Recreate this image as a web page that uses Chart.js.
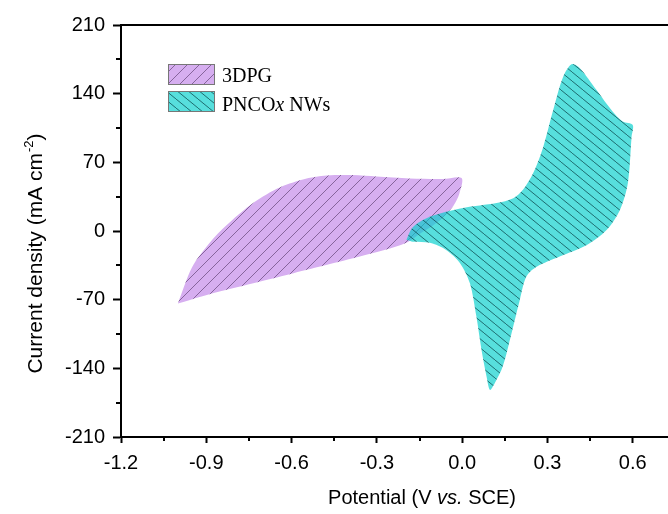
<!DOCTYPE html>
<html>
<head>
<meta charset="utf-8">
<script src="https://cdn.jsdelivr.net/npm/chart.js@4.4.0/dist/chart.umd.min.js"></script>
<style>
  html, body { margin: 0; padding: 0; background: #fff; overflow: hidden; }
  #wrap { width: 760px; height: 514px; }
</style>
</head>
<body>
<div id="wrap"><canvas id="cv" width="760" height="514"></canvas></div>
<script>
// ===== DATA =====
const seriesNames = ['3DPG', 'PNCOx NWs'];

// 3DPG loop (potential V, current mA cm-2), traced around the closed curve
const pgX = [-1.0, -0.95, -0.888, -0.828, -0.747, -0.652, -0.56, -0.476, -0.385, -0.301, -0.184, -0.068, -0.002,
             -0.01, -0.03, -0.06, -0.1, -0.15, -0.196, -0.28, -0.36, -0.475, -0.593, -0.71, -0.828, -0.92, -1.0];
const pgY = [-74, -37, -12, 6, 26, 43, 52.5, 56.5, 57, 55.5, 53.5, 53, 54,
             38, 26, 16, 6, -3, -12, -20, -26, -34.5, -43, -51.5, -60, -67, -74];

// PNCOx NWs loop
const ncX = [-0.196, -0.173, -0.114, 0.003, 0.121, 0.18, 0.214, 0.25, 0.285, 0.32, 0.355, 0.385, 0.414, 0.472, 0.53, 0.565, 0.6,
             0.596, 0.583, 0.555, 0.508, 0.437, 0.343, 0.262, 0.226, 0.203, 0.174, 0.143, 0.115, 0.098,
             0.086, 0.068, 0.05, 0.027, -0.008, -0.055, -0.114, -0.173, -0.196];
const ncY = [-9, 4, 14.5, 23.5, 28.5, 33.5, 42, 59, 85.5, 123, 157, 170, 166, 144, 121.5, 111.5, 108,
             96, 49, 21.5, 1, -14.5, -26, -36.5, -46.5, -70, -104, -138, -155, -162,
             -148.5, -121, -87, -53, -32.5, -19.5, -12, -11, -9];

// axis ticks
const xTickValues = [-1.2, -0.9, -0.6, -0.3, 0, 0.3, 0.6, 0.9];
const xMinor = [-1.05, -0.75, -0.45, -0.15, 0.15, 0.45, 0.75];
const yTickValues = [-210, -140, -70, 0, 70, 140, 210];
const yMinor = [-175, -105, -35, 35, 105, 175];

// ===== HELPERS =====
const SANS = "'Liberation Sans', Arial, sans-serif";
const SERIF = "'Liberation Serif', 'Times New Roman', serif";

function pts(xs, ys) {
  return xs.map((x, i) => ({ x, y: ys[i] }));
}

// hatched fill: dir > 0 => "/", dir < 0 => "\"
function hatch(fill, stroke, w, h, dir) {
  const c = document.createElement('canvas');
  c.width = w; c.height = h;
  const g = c.getContext('2d');
  g.fillStyle = fill;
  g.fillRect(0, 0, w, h);
  g.strokeStyle = stroke;
  g.lineWidth = 1;
  for (let k = -1; k <= 1; k++) {
    g.beginPath();
    if (dir > 0) { g.moveTo(k * w, h); g.lineTo(k * w + w, 0); }
    else { g.moveTo(k * w, 0); g.lineTo(k * w + w, h); }
    g.stroke();
  }
  return g.createPattern(c, 'repeat');
}

const pgFill = hatch('#d6aef0', 'rgba(80,50,100,0.6)', 12, 12, 1);
const ncFill = hatch('rgba(0,206,204,0.66)', 'rgba(10,70,75,0.75)', 11, 9, -1);

// ===== EXTRA DRAWING: frame, minor ticks, titles, legend =====
const extras = {
  id: 'extras',
  afterDraw(chart) {
    const { ctx, chartArea: a, scales: { x, y } } = chart;
    ctx.save();
    ctx.strokeStyle = '#000';
    ctx.lineWidth = 2;
    ctx.beginPath();
    ctx.moveTo(a.left - 1, a.top);
    ctx.lineTo(a.right, a.top);
    ctx.stroke();

    // minor ticks
    ctx.beginPath();
    xMinor.forEach(v => {
      const p = Math.round(x.getPixelForValue(v));
      ctx.moveTo(p, a.bottom); ctx.lineTo(p, a.bottom + 4);
    });
    yMinor.forEach(v => {
      const p = Math.round(y.getPixelForValue(v));
      ctx.moveTo(a.left, p); ctx.lineTo(a.left - 5, p);
    });
    ctx.stroke();

    ctx.fillStyle = '#000';
    ctx.textBaseline = 'alphabetic';

    // x title with italic "vs."
    const parts = [['Potential (V ', ''], ['vs.', 'italic '], [' SCE)', '']];
    let total = 0;
    parts.forEach(p => { ctx.font = p[1] + '20px ' + SANS; total += ctx.measureText(p[0]).width; });
    let cx = 422 - total / 2;
    parts.forEach(p => {
      ctx.font = p[1] + '20px ' + SANS;
      ctx.fillText(p[0], cx, 504);
      cx += ctx.measureText(p[0]).width;
    });

    // y title with superscript
    ctx.save();
    ctx.translate(42, 254);
    ctx.rotate(-Math.PI / 2);
    ctx.font = '21px ' + SANS;
    const t1 = 'Current density (mA cm', t3 = ')';
    const w1 = ctx.measureText(t1).width, w3 = ctx.measureText(t3).width;
    ctx.font = '13px ' + SANS;
    const w2 = ctx.measureText('-2').width;
    let x0 = -(w1 + w2 + w3) / 2;
    ctx.font = '21px ' + SANS;
    ctx.fillText(t1, x0, 0);
    ctx.font = '13px ' + SANS;
    ctx.fillText('-2', x0 + w1 + 1, -9);
    ctx.font = '21px ' + SANS;
    ctx.fillText(t3, x0 + w1 + w2 + 1, 0);
    ctx.restore();

    // legend
    const boxes = [[168, 64], [168, 91]];
    chart.data.datasets.forEach((ds, i) => {
      const [bx, by] = boxes[i];
      ctx.fillStyle = ds.backgroundColor;
      ctx.fillRect(bx, by, 47, 21);
      ctx.strokeStyle = '#777';
      ctx.lineWidth = 1;
      ctx.strokeRect(bx + 0.5, by + 0.5, 46, 20);
    });
    ctx.fillStyle = '#000';
    ctx.font = '20px ' + SERIF;
    ctx.fillText(seriesNames[0], 222, 82);
    let lx = 222;
    const lab = [['PNCO', ''], ['x', 'italic '], [' NWs', '']];
    lab.forEach(p => {
      ctx.font = p[1] + '20px ' + SERIF;
      ctx.fillText(p[0], lx, 111);
      lx += ctx.measureText(p[0]).width;
    });
    ctx.restore();
  }
};

// ===== CHART =====
new Chart(document.getElementById('cv'), {
  type: 'line',
  data: {
    datasets: [
      { label: seriesNames[0], data: pts(pgX, pgY), backgroundColor: pgFill,
        borderColor: 'rgba(0,0,0,0)', borderWidth: 0, pointRadius: 0,
        fill: 'shape', tension: 0.3, order: 2 },
      { label: seriesNames[1], data: pts(ncX, ncY), backgroundColor: ncFill,
        borderColor: 'rgba(0,0,0,0)', borderWidth: 0, pointRadius: 0,
        fill: 'shape', tension: 0.3, order: 1 }
    ]
  },
  options: {
    responsive: false,
    animation: false,
    devicePixelRatio: 1,
    layout: { padding: { top: 25, right: 42, left: 0, bottom: 0 } },
    plugins: { legend: { display: false }, tooltip: { enabled: false } },
    scales: {
      x: {
        type: 'linear', min: -1.2, max: 0.9,
        afterBuildTicks: s => { s.ticks = xTickValues.map(v => ({ value: v })); },
        afterFit: s => { s.height = 77; },
        ticks: {
          callback: v => Math.abs(v) < 1e-9 ? '0.0' : Number(v).toFixed(1),
          color: '#000', font: { family: SANS, size: 20 }, padding: 8,
          maxRotation: 0, autoSkip: false
        },
        grid: { drawOnChartArea: false, tickLength: 6, tickWidth: 2, tickColor: '#000' },
        border: { color: '#000', width: 2 }
      },
      y: {
        type: 'linear', min: -210, max: 210,
        afterBuildTicks: s => { s.ticks = yTickValues.map(v => ({ value: v })); },
        afterFit: s => { s.width = 121; },
        ticks: {
          callback: v => String(v),
          color: '#000', font: { family: SANS, size: 20 }, padding: 8, autoSkip: false
        },
        grid: { drawOnChartArea: false, tickLength: 8, tickWidth: 2, tickColor: '#000' },
        border: { color: '#000', width: 2 }
      }
    }
  },
  plugins: [extras]
});
</script>
</body>
</html>
